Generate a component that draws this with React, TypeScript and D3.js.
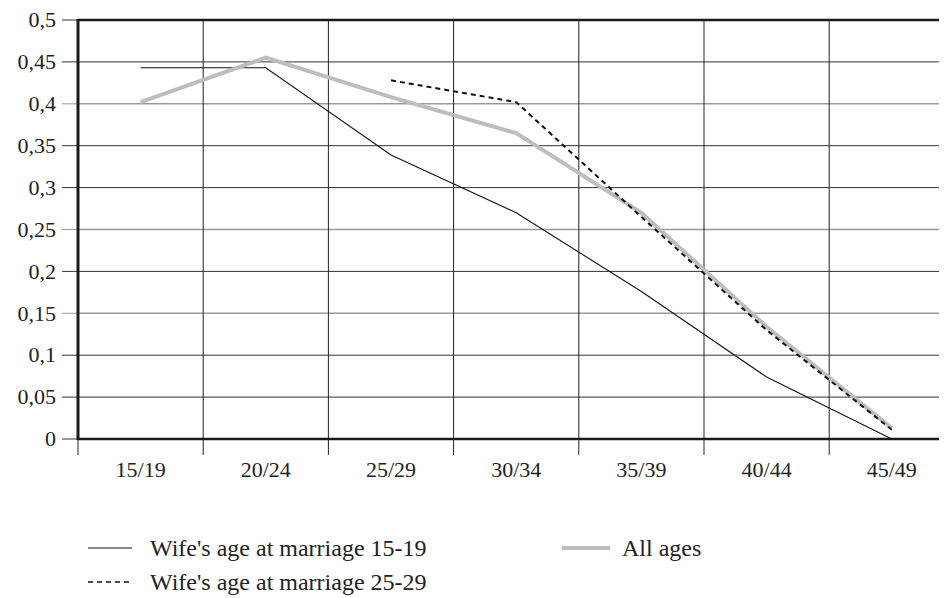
import React from "react";
import * as d3 from "d3";

const categories = ["15/19", "20/24", "25/29", "30/34", "35/39", "40/44", "45/49"];
const yTicks = [0, 0.05, 0.1, 0.15, 0.2, 0.25, 0.3, 0.35, 0.4, 0.45, 0.5];
const yTickLabels = ["0", "0,05", "0,1", "0,15", "0,2", "0,25", "0,3", "0,35", "0,4", "0,45", "0,5"];

const series1519: (number | null)[] = [0.443, 0.443, 0.339, 0.27, 0.176, 0.074, 0];
const series2529: (number | null)[] = [null, null, 0.428, 0.402, 0.265, 0.13, 0.011];
const seriesAll: (number | null)[] = [0.402, 0.455, 0.408, 0.365, 0.27, 0.134, 0.013];

const legendLabels = ["Wife's age at marriage 15-19", "Wife's age at marriage 25-29", "All ages"];

const W = 947;
const H = 598;
const left = 70;
const right = 946.5;
const top = 12;
const bottom = 431;
const lightRows = [0.15, 0.25, 0.4];

export default function App() {
  const x = d3.scaleBand<string>().domain(categories).range([left, left + 7 * 125.2]).padding(0);
  const y = d3.scaleLinear().domain([0, 0.5]).range([bottom, top]);
  const cx = (i: number) => (x(categories[i]) as number) + x.bandwidth() / 2;

  const line = d3
    .line<number | null>()
    .defined((d) => d !== null)
    .x((_, i) => cx(i))
    .y((d) => y(d as number));

  const fontStyle = {
    fontFamily: "'Liberation Serif', 'DejaVu Serif', serif",
    fontVariantNumeric: "oldstyle-nums" as const,
  };
  const boundaries = categories.map((c) => x(c) as number);

  return (
    <svg width={W - 8} height={H - 8} style={{ display: "block", overflow: "hidden" }}>
      {yTicks.map((t, i) => {
        const light = lightRows.some((v) => Math.abs(v - t) < 1e-9);
        return (
          <g key={"y" + i}>
            {i > 0 && i < yTicks.length - 1 && (
              <line x1={left} x2={right + 20} y1={y(t)} y2={y(t)} stroke={light ? "#9a9a9a" : "#333"} strokeWidth={light ? 1.4 : 1} />
            )}
            <line x1={left - 16} x2={left} y1={y(t)} y2={y(t)} stroke={light ? "#9a9a9a" : "#333"} strokeWidth={1} />
            <text x={left - 22} y={y(t)} dy="0.33em" textAnchor="end" style={fontStyle} fontSize={22} fill="#222">
              {yTickLabels[i]}
            </text>
          </g>
        );
      })}
      {boundaries.map((b, i) => (
        <g key={"x" + i}>
          {i > 0 && <line x1={b} x2={b} y1={top} y2={bottom} stroke="#222" strokeWidth={1} />}
          <line x1={b} x2={b} y1={bottom} y2={bottom + 16} stroke="#222" strokeWidth={1} />
          <text x={cx(i)} y={bottom + 38} textAnchor="middle" style={fontStyle} fontSize={22} fill="#222">
            {categories[i]}
          </text>
        </g>
      ))}
      <line x1={left} x2={right + 20} y1={top} y2={top} stroke="#1a1a1a" strokeWidth={2.5} />
      <line x1={left} x2={right + 20} y1={bottom} y2={bottom} stroke="#1a1a1a" strokeWidth={2.5} />
      <line x1={left} x2={left} y1={top - 1} y2={bottom + 1} stroke="#1a1a1a" strokeWidth={3} />

      <path d={line(series1519) || ""} fill="none" stroke="#111" strokeWidth={1.1} />
      <path d={line(seriesAll) || ""} fill="none" stroke="#bdbdbd" strokeWidth={4} />
      <path d={line(series2529) || ""} fill="none" stroke="#111" strokeWidth={2} strokeDasharray="5,4" />

      <g style={fontStyle} fontSize={24} fill="#222">
        <line x1={80} x2={124} y1={540} y2={540} stroke="#111" strokeWidth={1} />
        <text x={142} y={548}>{legendLabels[0]}</text>
        <line x1={80} x2={124} y1={574} y2={574} stroke="#111" strokeWidth={1.6} strokeDasharray="5,4" />
        <text x={142} y={582}>{legendLabels[1]}</text>
        <line x1={554} x2={602} y1={540} y2={540} stroke="#bdbdbd" strokeWidth={4} />
        <text x={614} y={548}>{legendLabels[2]}</text>
      </g>
    </svg>
  );
}
